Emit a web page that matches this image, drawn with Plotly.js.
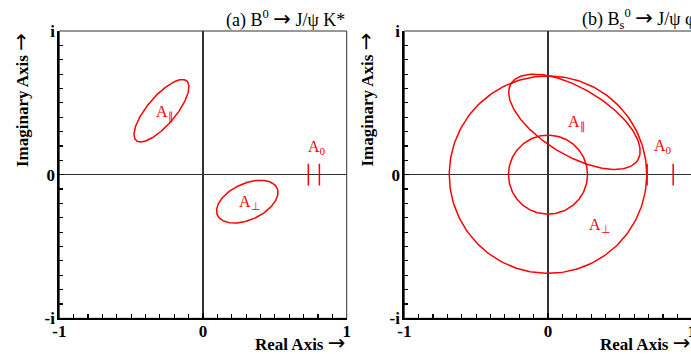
<!DOCTYPE html>
<html>
<head>
<meta charset="utf-8">
<script src="https://cdn.plot.ly/plotly-3.0.1.min.js"></script>
<style>
  html, body { margin: 0; padding: 0; overflow: hidden; background: #fff; }
  #chart { width: 720px; height: 354px; }
</style>
</head>
<body>
<div id="chart"></div>
<script>
// ---------- data ----------
// Panel (a) B0 -> J/psi K*: contour ellipses (centre, semi-axes, tilt in degrees)
const aContourNames = ['A∥', 'A⊥'];
const aCentreX  = [-0.289, 0.308];
const aCentreY  = [0.445, -0.188];
const aSemiMajor = [0.272, 0.228];
const aSemiMinor = [0.099, 0.126];
const aTiltDeg   = [49.8, 24.7];
// Panel (a) |A0| interval bars on the real axis
const aA0Bars = [0.733, 0.810];

// Panel (b) Bs0 -> J/psi phi contours
const bContourNames = ['A⊥ outer', 'A⊥ inner', 'A∥'];
const bCentreX  = [0.0, 0.0, 0.184];
const bCentreY  = [0.0, 0.0, 0.368];
const bSemiMajor = [0.687, 0.275, 0.515];
const bSemiMinor = [0.687, 0.275, 0.232];
const bTiltDeg   = [0, 0, -31];
// Panel (b) |A0| interval bars
const bA0Bars = [0.690, 0.871];

const barHalfHeight = 0.076;

// tick labels
const xTickVals = [-1, 0, 1];
const xTickText = ['-1', '0', '1'];
const yTickVals = [-1, 0, 1];
const yTickText = ['-i', '0', 'i'];

// ---------- build traces ----------
const RED = '#ff0000';
function outline(cx, cy, a, b, deg) {
  const t = deg * Math.PI / 180, xs = [], ys = [];
  for (let k = 0; k <= 240; k++) {
    const p = 2 * Math.PI * k / 240;
    const u = a * Math.cos(p), v = b * Math.sin(p);
    xs.push(cx + u * Math.cos(t) - v * Math.sin(t));
    ys.push(cy + u * Math.sin(t) + v * Math.cos(t));
  }
  return [xs, ys];
}
function contourTraces(names, cx, cy, A, B, T, xa, ya) {
  return names.map((n, i) => {
    const [xs, ys] = outline(cx[i], cy[i], A[i], B[i], T[i]);
    return {type: 'scatter', mode: 'lines', name: n, x: xs, y: ys, xaxis: xa, yaxis: ya,
            line: {color: RED, width: 1.5}, hoverinfo: 'skip', showlegend: false};
  });
}
function barTrace(vals, xa, ya) {
  const xs = [], ys = [];
  vals.forEach(v => { xs.push(v, v, null); ys.push(-barHalfHeight, barHalfHeight, null); });
  return {type: 'scatter', mode: 'lines', name: 'A0', x: xs, y: ys, xaxis: xa, yaxis: ya,
          line: {color: RED, width: 1.5}, hoverinfo: 'skip', showlegend: false};
}

const traces = [
  ...contourTraces(aContourNames, aCentreX, aCentreY, aSemiMajor, aSemiMinor, aTiltDeg, 'x', 'y'),
  barTrace(aA0Bars, 'x', 'y'),
  ...contourTraces(bContourNames, bCentreX, bCentreY, bSemiMajor, bSemiMinor, bTiltDeg, 'x2', 'y2'),
  barTrace(bA0Bars, 'x2', 'y2')
];

// ---------- layout ----------
const W = 720, H = 354;
const px = v => v / W, py = v => 1 - v / H;
const serif = 'Liberation Serif, Times New Roman, serif';
const tickFont = {family: serif, size: 17, color: '#000', weight: 'bold'};
const ARROW = '<span style="font-family:\'DejaVu Sans\';font-weight:normal;font-size:21px">→</span>';

function axisBase(ticktext) {
  return {range: [-1, 1], showgrid: false,
          zeroline: true, zerolinecolor: '#333', zerolinewidth: 1.5,
          showline: true, linecolor: '#000', linewidth: 2,
          ticks: 'inside', ticklen: 5, tickwidth: 1.2, tickcolor: '#000',
          tickvals: xTickVals, ticktext: ticktext, tickfont: tickFont,
          minor: {tick0: 0, dtick: 0.1, ticks: 'inside', ticklen: 4, tickwidth: 1.2, tickcolor: '#000', showgrid: false},
          fixedrange: true};
}
function xAxis(dom, anchor) {
  return Object.assign(axisBase(xTickText), {domain: dom, anchor: anchor, ticklabelstandoff: -4});
}
function yAxis(dom, anchor) {
  return Object.assign(axisBase(yTickText), {domain: dom, anchor: anchor, tickvals: yTickVals, ticklabelstandoff: -1});
}

const yDom = [(H - 318.3) / H, (H - 31) / H];
const lab = (text, xref, yref, x, y) => ({text, xref, yref, x, y, xanchor: 'left', yanchor: 'middle',
  showarrow: false, font: {family: serif, size: 16, color: RED}});

const layout = {
  width: W, height: H,
  margin: {l: 0, r: 0, t: 0, b: 0},
  paper_bgcolor: '#fff', plot_bgcolor: '#fff',
  showlegend: false,
  xaxis: xAxis([px(59.3), px(346.7)], 'y'),
  yaxis: yAxis(yDom, 'x'),
  xaxis2: xAxis([px(404.3), px(691.7)], 'y2'),
  yaxis2: yAxis(yDom, 'x2'),
  shapes: [
    {type: 'rect', xref: 'x domain', yref: 'y domain', x0: 0, x1: 1, y0: 0, y1: 1,
     line: {color: '#333', width: 1}, layer: 'below'},
    {type: 'rect', xref: 'x2 domain', yref: 'y2 domain', x0: 0, x1: 1, y0: 0, y1: 1,
     line: {color: '#333', width: 1}, layer: 'below'}
  ],
  annotations: [
    {text: '(a) B<sup>0</sup> ' + ARROW + ' J/ψ K*', xref: 'paper', yref: 'paper', x: px(346.7), y: py(19),
     xanchor: 'right', yanchor: 'middle', showarrow: false, font: {family: serif, size: 18, color: '#000'}},
    {text: '(b) B<sub>s</sub><sup>0</sup> ' + ARROW + ' J/ψ φ', xref: 'paper', yref: 'paper', x: px(580), y: py(19),
     xanchor: 'left', yanchor: 'middle', showarrow: false, font: {family: serif, size: 18, color: '#000'}},
    {text: '<b>Real Axis</b> ' + ARROW, xref: 'paper', yref: 'paper', x: px(347), y: py(343),
     xanchor: 'right', yanchor: 'middle', showarrow: false, font: {family: serif, size: 17, color: '#000'}},
    {text: '<b>Real Axis</b> ' + ARROW, xref: 'paper', yref: 'paper', x: px(692), y: py(343),
     xanchor: 'right', yanchor: 'middle', showarrow: false, font: {family: serif, size: 17, color: '#000'}},
    {text: '<b>Imaginary Axis</b> ' + ARROW, xref: 'paper', yref: 'paper', x: px(21), y: py(100),
     xanchor: 'center', yanchor: 'middle', textangle: -90, showarrow: false, font: {family: serif, size: 17, color: '#000'}},
    {text: '<b>Imaginary Axis</b> ' + ARROW, xref: 'paper', yref: 'paper', x: px(365.5), y: py(100),
     xanchor: 'center', yanchor: 'middle', textangle: -90, showarrow: false, font: {family: serif, size: 17, color: '#000'}},
    lab('A<sub>∥</sub>', 'x', 'y', -0.341, 0.43),
    lab('A<sub>⊥</sub>', 'x', 'y', 0.2345, -0.197),
    lab('A<sub>0</sub>', 'x', 'y', 0.715, 0.19),
    lab('A<sub>∥</sub>', 'x2', 'y2', 0.123, 0.36),
    lab('A<sub>0</sub>', 'x2', 'y2', 0.727, 0.197),
    lab('A<sub>⊥</sub>', 'x2', 'y2', 0.27, -0.355)
  ]
};

Plotly.newPlot('chart', traces, layout, {staticPlot: true, displayModeBar: false});
</script>
</body>
</html>
